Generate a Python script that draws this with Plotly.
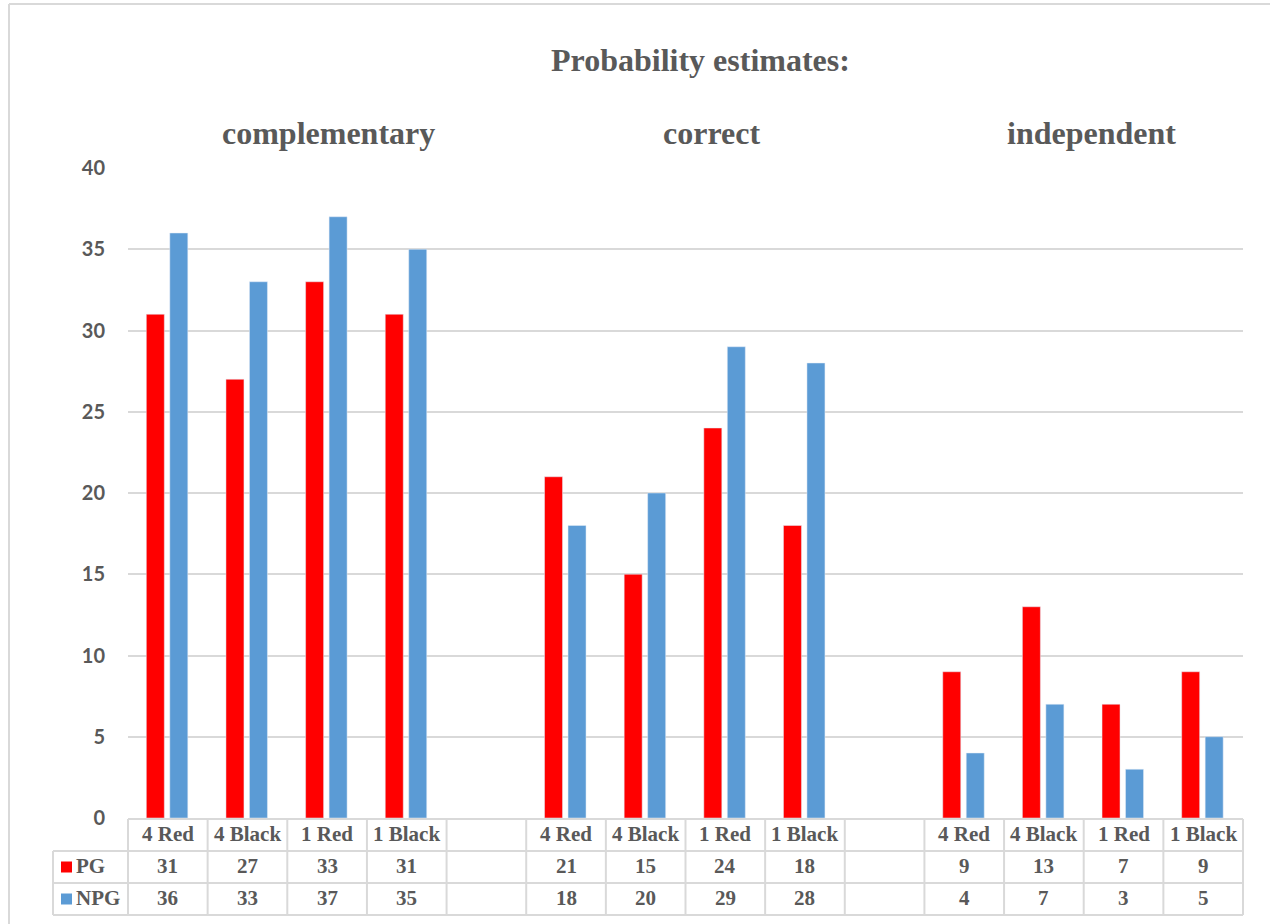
import plotly.graph_objects as go

# ---- data ----
groups = ["complementary", "correct", "independent"]
conditions = ["4 Red", "4 Black", "1 Red", "1 Black"]
pg_values = [31, 27, 33, 31, 21, 15, 24, 18, 9, 13, 7, 9]
npg_values = [36, 33, 37, 35, 18, 20, 29, 28, 4, 7, 3, 5]
series_names = ["PG", "NPG"]
y_ticks = [0, 5, 10, 15, 20, 25, 30, 35, 40]

# ---- layout constants (pixels) ----
W, H = 1270, 924
PLOT_L, PLOT_R, PLOT_T, PLOT_B = 128, 1243, 168, 818
SLOTS = len(groups) * (len(conditions) + 1) - 1  # one blank slot between groups
SLOT_PX = (PLOT_R - PLOT_L) / SLOTS

RED = "#FF0000"
BLUE = "#5B9BD5"
TXT = "#595959"
GRID = "#D9D9D9"
SERIF = "Liberation Serif, Times New Roman, serif"
SANS = "Lato, Open Sans, sans-serif"


def py(p):
    """pixel row -> paper y"""
    return (PLOT_B - p) / (PLOT_B - PLOT_T)


def px(p):
    """pixel column -> paper x"""
    return (p - PLOT_L) / (PLOT_R - PLOT_L)


# slot index of each bar: groups separated by an empty slot
xpos = []
cat_labels = []
for g in range(len(groups)):
    for i, c in enumerate(conditions):
        xpos.append(g * (len(conditions) + 1) + i)
        cat_labels.append(c)

fig = go.Figure()
fig.add_trace(go.Bar(x=xpos, y=pg_values, name=series_names[0], marker_color=RED,
                     width=0.226, offset=-0.27, showlegend=False))
fig.add_trace(go.Bar(x=xpos, y=npg_values, name=series_names[1], marker_color=BLUE,
                     width=0.226, offset=0.025, showlegend=False))

shapes = []
annotations = []


def hline(y_px, x0_px, x1_px):
    shapes.append(dict(type="line", xref="paper", yref="paper",
                       x0=px(x0_px), x1=px(x1_px), y0=py(y_px), y1=py(y_px),
                       line=dict(color=GRID, width=2)))


def vline(x_px, y0_px, y1_px):
    shapes.append(dict(type="line", xref="paper", yref="paper",
                       x0=px(x_px), x1=px(x_px), y0=py(y0_px), y1=py(y1_px),
                       line=dict(color=GRID, width=2)))


# chart frame (top and left edges)
hline(4, 9, W + 20)
vline(9, 4, H + 20)

# data table grid
ROW_HDR, ROW_PG, ROW_NPG, ROW_END = 819, 851, 883, 915
LEG_L = 53
hline(ROW_HDR, PLOT_L, PLOT_R)
for r in (ROW_PG, ROW_NPG, ROW_END):
    hline(r, LEG_L, PLOT_R)
vline(LEG_L, ROW_PG, ROW_END)
for k in range(SLOTS + 1):
    vline(PLOT_L + k * SLOT_PX, ROW_HDR, ROW_END)

cell_font = dict(family=SERIF, size=21, color=TXT)
for x, lab, a, b in zip(xpos, cat_labels, pg_values, npg_values):
    for txt, r0, r1 in ((f"<b>{lab}</b>", ROW_HDR, ROW_PG),
                        (f"<b>{a}</b>", ROW_PG, ROW_NPG),
                        (f"<b>{b}</b>", ROW_NPG, ROW_END)):
        annotations.append(dict(x=x, xref="x", y=py((r0 + r1) / 2 - 1), yref="paper",
                                text=txt, showarrow=False, font=cell_font,
                                xanchor="center", yanchor="middle"))

# legend keys inside the table
for name, col, r0, r1 in ((series_names[0], RED, ROW_PG, ROW_NPG),
                          (series_names[1], BLUE, ROW_NPG, ROW_END)):
    cy = (r0 + r1) / 2
    shapes.append(dict(type="rect", xref="paper", yref="paper",
                       x0=px(61), x1=px(72), y0=py(cy + 5.5), y1=py(cy - 5.5),
                       fillcolor=col, line=dict(width=0)))
    annotations.append(dict(x=px(74), xref="paper", y=py(cy - 1), yref="paper",
                            text=f"<b>{name}</b>", showarrow=False, font=cell_font,
                            xanchor="left", yanchor="middle"))

# chart title and group headings
annotations.append(dict(x=px(700), xref="paper", y=py(60), yref="paper",
                        text="<b>Probability estimates:</b>", showarrow=False,
                        font=dict(family=SERIF, size=32, color=TXT),
                        xanchor="center", yanchor="middle"))
group_centers_px = [328, 711, 1091]
for gname, cx in zip(groups, group_centers_px):
    annotations.append(dict(x=px(cx), xref="paper", y=py(133), yref="paper",
                            text=f"<b>{gname}</b>", showarrow=False,
                            font=dict(family=SERIF, size=32, color=TXT),
                            xanchor="center", yanchor="middle"))

fig.update_layout(
    width=W, height=H,
    margin=dict(l=PLOT_L, r=W - PLOT_R, t=PLOT_T, b=H - PLOT_B),
    paper_bgcolor="white", plot_bgcolor="white",
    barmode="overlay",
    xaxis=dict(range=[-0.5, SLOTS - 0.5], showticklabels=False, showgrid=False,
               zeroline=False, showline=False, fixedrange=True),
    yaxis=dict(range=[0, 40], tickvals=y_ticks, showgrid=True, gridcolor=GRID,
               gridwidth=2, zeroline=False, showline=False, ticks="",
               ticklabelstandoff=22,
               tickfont=dict(family=SANS, size=20, color=TXT, weight="bold")),
    shapes=shapes,
    annotations=annotations,
)

fig.write_html("out.html")
